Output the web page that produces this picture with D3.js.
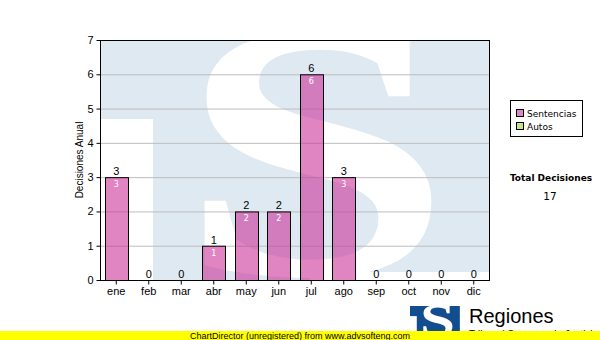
<!DOCTYPE html>
<html><head><meta charset="utf-8">
<script src="https://cdn.jsdelivr.net/npm/d3@7"></script>
<style>body{margin:0;background:#fff}svg{display:block}</style>
</head><body>
<svg id="c" width="600" height="340"></svg>
<script>
const months = ["ene","feb","mar","abr","may","jun","jul","ago","sep","oct","nov","dic"];
const sentencias = [3,0,0,1,2,2,6,3,0,0,0,0];
const autos = [0,0,0,0,0,0,0,0,0,0,0,0];
const yTicks = [0,1,2,3,4,5,6,7];
const seriesNames = ["Sentencias","Autos"];
const seriesColors = ["#cc3399","#c8e08a"];

const svg = d3.select("#c");
const W = 600, H = 340;
const m = {l:100, t:40, r:490, b:280};

const x = d3.scaleBand().domain(months).range([m.l, m.r]);
const y = d3.scaleLinear().domain([0,7]).range([m.b, m.t]);

// glyph fitting helper
const cv = document.createElement("canvas").getContext("2d");
function fitS(g, box, color){
  const fs = 200, font = "bold " + fs + "px 'Liberation Serif'";
  cv.font = font;
  const mt = cv.measureText("S");
  const xmin = -mt.actualBoundingBoxLeft, xmax = mt.actualBoundingBoxRight;
  const ymin = -mt.actualBoundingBoxAscent, ymax = mt.actualBoundingBoxDescent;
  const sx = (box.x1-box.x0)/(xmax-xmin), sy = (box.y1-box.y0)/(ymax-ymin);
  g.append("text").attr("x",0).attr("y",0)
    .attr("font-family","Liberation Serif").attr("font-weight","bold").attr("font-size",fs)
    .attr("fill",color)
    .attr("transform",`translate(${box.x0 - xmin*sx},${box.y0 - ymin*sy}) scale(${sx},${sy})`)
    .text("S");
}
function logo(parent, ox, oy, s, blue, bg, clipId){
  // logo drawn in a 390x240 unit box
  const defs = svg.append("defs");
  defs.append("clipPath").attr("id",clipId).append("rect")
    .attr("x",ox).attr("y",oy).attr("width",390*s).attr("height",240*s);
  const g = parent.append("g").attr("clip-path",`url(#${clipId})`);
  const inner = g.append("g").attr("transform",`translate(${ox},${oy}) scale(${s})`);
  inner.append("rect").attr("x",0).attr("y",0).attr("width",390).attr("height",240).attr("fill",blue);
  inner.append("rect").attr("x",0).attr("y",79).attr("width",53).attr("height",170).attr("fill",bg);
  inner.append("rect").attr("x",210).attr("y",232).attr("width",190).attr("height",20).attr("fill",bg);
  fitS(inner, {x0:103, x1:332, y0:-8, y1:238}, bg);
}

// watermark
logo(svg, m.l, m.t, 1, "#dfe9f2", "#ffffff", "wmclip");

// gridlines
svg.append("g").selectAll("line").data(yTicks.filter(d=>d>0 && d<7)).join("line")
  .attr("x1",m.l).attr("x2",m.r).attr("y1",d=>y(d)+0.5).attr("y2",d=>y(d)+0.5)
  .attr("stroke","#bdbdbd").attr("stroke-width",1);

// stacked bars
const rows = months.map((mo,i)=>({m:mo, s:sentencias[i], a:autos[i]}));
const stack = d3.stack().keys(["s","a"])(rows);
const bw = 23;
stack.forEach((layer,li)=>{
  svg.append("g").selectAll("rect").data(layer.filter(d=>d[1]-d[0]>0)).join("rect")
    .attr("x",d=>Math.round(x(d.data.m)+x.bandwidth()/2-bw/2)+0.5)
    .attr("y",d=>y(d[1])+0.5)
    .attr("width",bw)
    .attr("height",d=>y(d[0])-y(d[1]))
    .attr("fill",seriesColors[li]).attr("fill-opacity",0.6)
    .attr("stroke","#000").attr("stroke-width",1);
  svg.append("g").selectAll("text").data(layer.filter(d=>d[1]-d[0]>0)).join("text")
    .attr("x",d=>x(d.data.m)+x.bandwidth()/2)
    .attr("y",d=>y(d[1])+10)
    .attr("text-anchor","middle").attr("font-family","DejaVu Sans").attr("font-size",8)
    .attr("fill","#fff").text(d=>d[1]-d[0]);
});
// total labels
svg.append("g").selectAll("text").data(rows).join("text")
  .attr("x",d=>x(d.m)+x.bandwidth()/2)
  .attr("y",d=>y(d.s+d.a)-2)
  .attr("text-anchor","middle").attr("font-family","Liberation Sans").attr("font-size",11)
  .attr("fill","#000").text(d=>d.s+d.a);

// plot border
svg.append("rect").attr("x",m.l+0.5).attr("y",m.t+0.5).attr("width",m.r-m.l-1).attr("height",m.b-m.t)
  .attr("fill","none").attr("stroke","#000");

// axes
const yAxis = svg.append("g").attr("transform",`translate(${m.l+0.5},0)`)
  .call(d3.axisLeft(y).tickValues(yTicks).tickFormat(d3.format("d")).tickSize(4).tickPadding(3));
yAxis.select(".domain").remove();
yAxis.selectAll("text").attr("font-family","Liberation Sans").attr("font-size",11).attr("fill","#000");
const xAxis = svg.append("g").attr("transform",`translate(0,${m.b+0.5})`)
  .call(d3.axisBottom(x).tickSize(4).tickPadding(3));
xAxis.select(".domain").remove();
xAxis.selectAll("text").attr("font-family","Liberation Sans").attr("font-size",11).attr("fill","#000");

// y title
svg.append("text").attr("transform","translate(83,160) rotate(-90)")
  .attr("text-anchor","middle").attr("font-family","Liberation Sans").attr("font-size",10)
  .text("Decisiones Anual");

// legend
svg.append("rect").attr("x",510.5).attr("y",100.5).attr("width",72).attr("height",36)
  .attr("fill","#fff").attr("stroke","#000");
const lg = svg.append("g").selectAll("g").data(seriesNames).join("g")
  .attr("transform",(d,i)=>`translate(516,${109+i*13})`);
lg.append("rect").attr("x",0.5).attr("y",0.5).attr("width",7).attr("height",7)
  .attr("fill",(d,i)=>i===0?"#dd88c4":seriesColors[1]).attr("stroke","#000");
lg.append("text").attr("x",11).attr("y",8).attr("font-family","DejaVu Sans").attr("font-size",9).text(d=>d);

// totals
const total = d3.sum(sentencias)+d3.sum(autos);
svg.append("text").attr("x",551).attr("y",181).attr("text-anchor","middle")
  .attr("font-family","DejaVu Sans").attr("font-weight","bold").attr("font-size",9).text("Total Decisiones");
svg.append("text").attr("x",550).attr("y",200).attr("text-anchor","middle")
  .attr("font-family","DejaVu Sans").attr("font-size",10.5).text(total);

// bottom logo
logo(svg, 410, 306, 0.128, "#124d8f", "#ffffff", "lgclip");
svg.append("text").attr("x",469).attr("y",323).attr("font-family","Liberation Sans").attr("font-size",20)
  .text("Regiones");
svg.append("text").attr("x",469).attr("y",338).attr("font-family","Liberation Sans").attr("font-size",10)
  .text("Tribunal Supremo de Justicia");

// yellow bar
svg.append("rect").attr("x",0).attr("y",331).attr("width",W).attr("height",9).attr("fill","#ffff00");
svg.append("text").attr("x",300).attr("y",339).attr("text-anchor","middle")
  .attr("font-family","Liberation Sans").attr("font-size",9)
  .text("ChartDirector (unregistered) from www.advsofteng.com");
</script>
</body></html>
